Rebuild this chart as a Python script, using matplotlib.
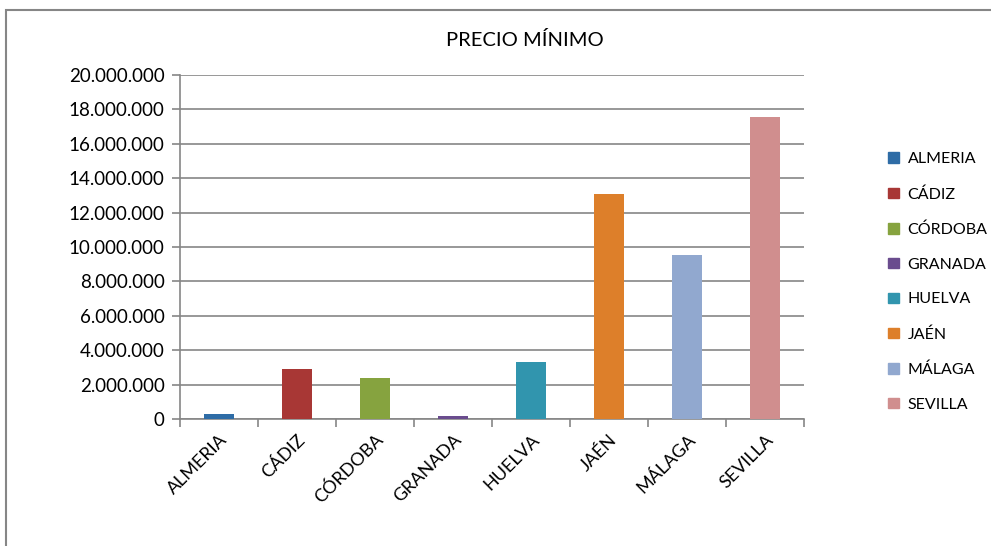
import matplotlib
matplotlib.use('Agg')
import matplotlib.pyplot as plt
from matplotlib.patches import Rectangle
from matplotlib.ticker import FuncFormatter, MultipleLocator

provincias = ['ALMERIA', 'CÁDIZ', 'CÓRDOBA', 'GRANADA', 'HUELVA', 'JAÉN', 'MÁLAGA', 'SEVILLA']
precio_minimo = [300000, 2910000, 2380000, 170000, 3310000, 13080000, 9530000, 17570000]
colores = ['#2E6CA6', '#A83735', '#86A33F', '#6A4C8E', '#3195AE', '#DD7F2A', '#91A8CF', '#D08E8E']

plt.rcParams['font.family'] = ['Lato', 'DejaVu Sans']
GRIS = '#868686'

fig = plt.figure(figsize=(9.91, 5.46), dpi=100)
ax = fig.add_axes([180 / 991, 1 - 419 / 546, (804 - 180) / 991, (419 - 75) / 546])

# marco exterior del gráfico
fig.patches.append(Rectangle((5.5 / 991, -0.05), 1.1, 1 - 10 / 546 + 0.05,
                             transform=fig.transFigure, fill=False,
                             edgecolor=GRIS, linewidth=1.5))

x = list(range(len(provincias)))
bars = ax.bar(x, precio_minimo, width=0.39, color=colores, zorder=3)

ax.set_xlim(-0.5, len(provincias) - 0.5)
ax.set_ylim(0, 20000000)
ax.yaxis.set_major_locator(MultipleLocator(2000000))
ax.yaxis.set_major_formatter(FuncFormatter(lambda v, p: f'{int(v):,}'.replace(',', '.')))
ax.grid(axis='y', color=GRIS, linewidth=1.2, zorder=0)

ax.set_xticks([i - 0.5 for i in range(len(provincias) + 1)])
ax.set_xticklabels([])
ax.set_xticks(x, minor=True)
ax.set_xticklabels(provincias, minor=True, rotation=45, ha='right',
                   rotation_mode='anchor', fontsize=13)
ax.tick_params(axis='x', which='minor', length=0, pad=9)
ax.tick_params(axis='x', which='major', length=6, color=GRIS, width=1.2)
ax.tick_params(axis='y', length=6, color=GRIS, width=1.2, labelsize=13.5, pad=5)

for s in ['top', 'right']:
    ax.spines[s].set_visible(False)
for s in ['left', 'bottom']:
    ax.spines[s].set_color(GRIS)
    ax.spines[s].set_linewidth(1.2)

fig.text(525 / 991, 1 - 40 / 546, 'PRECIO MÍNIMO', ha='center', va='center', fontsize=14.5)

handles = [Rectangle((0, 0), 1, 1, color=c) for c in colores]
fig.legend(handles, provincias, loc='upper left', bbox_to_anchor=(882 / 991, 1 - 146 / 546),
           frameon=False, fontsize=11.5, handlelength=0.65, handleheight=0.65,
           handletextpad=0.55, labelspacing=1.3, borderaxespad=0)

plt.savefig('out.png', dpi=100)
